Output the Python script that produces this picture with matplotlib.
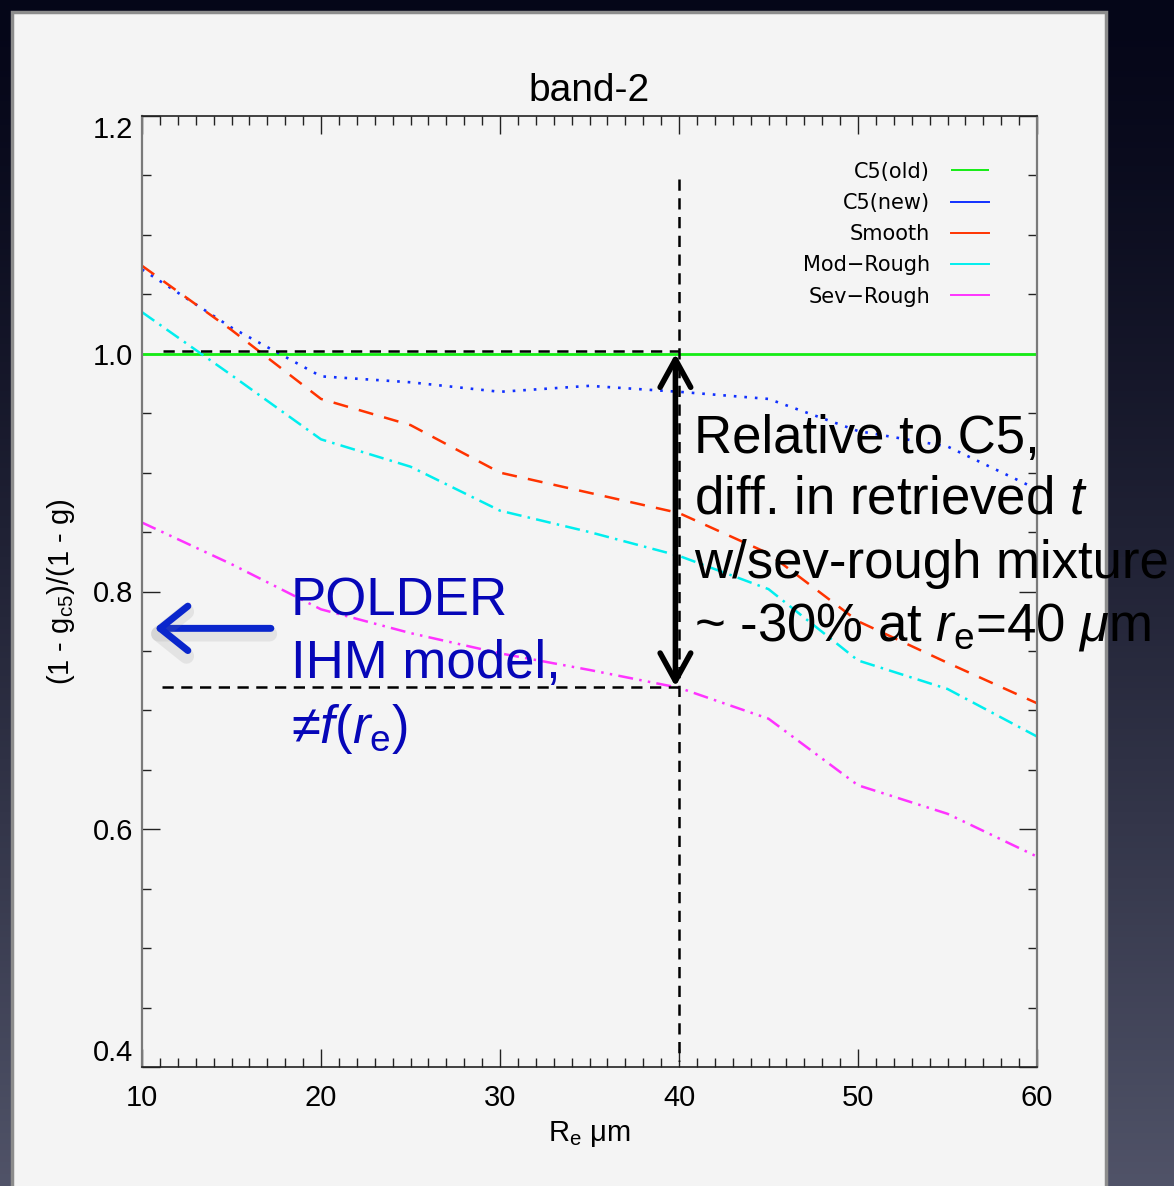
import matplotlib
matplotlib.use("Agg")
import matplotlib.pyplot as plt
import matplotlib.patheffects as pe
import numpy as np
from matplotlib.patches import Rectangle
from matplotlib.ticker import MultipleLocator, FormatStrFormatter

plt.rcParams["font.family"] = ["Liberation Sans", "DejaVu Sans"]
plt.rcParams["mathtext.fontset"] = "custom"
plt.rcParams["mathtext.rm"] = "Liberation Sans"
plt.rcParams["mathtext.it"] = "Liberation Sans:italic"

# effective radius (um)
re_um = [10, 15, 20, 25, 30, 35, 40, 45, 50, 55, 60]

# (1 - g_c5)/(1 - g) per habit model
c5_old = [1.0, 1.0, 1.0, 1.0, 1.0, 1.0, 1.0, 1.0, 1.0, 1.0, 1.0]
c5_new = [1.071, 1.022, 0.981, 0.976, 0.968, 0.973, 0.968, 0.962, 0.935, 0.922, 0.886]
smooth = [1.074, 1.020, 0.962, 0.940, 0.900, 0.883, 0.866, 0.832, 0.775, 0.740, 0.706]
mod_rough = [1.035, 0.982, 0.928, 0.905, 0.868, 0.850, 0.830, 0.802, 0.742, 0.718, 0.678]
sev_rough = [0.858, 0.823, 0.785, 0.765, 0.748, 0.734, 0.719, 0.693, 0.637, 0.613, 0.577]

series_names = ["C5(old)", "C5(new)", "Smooth", "Mod\u2212Rough", "Sev\u2212Rough"]

W, H = 1174, 1186
fig = plt.figure(figsize=(W / 100, H / 100), dpi=100)
fig.patch.set_facecolor("#05061a")

# dark slide background + light panel
bg = fig.add_axes([0, 0, 1, 1], zorder=-10)
top = np.array([5, 6, 24]) / 255
bot = np.array([80, 83, 104]) / 255
t = np.linspace(0, 1, 200)[:, None] ** 1.3
grad = top[None, None, :] * (1 - t[..., None]) + bot[None, None, :] * t[..., None]
grad = np.repeat(grad, 2, axis=1)
bg.imshow(grad, extent=[0, 1, 0, 1], aspect="auto", origin="upper")
bg.add_patch(Rectangle((12 / W, -0.02), (1106 - 12) / W, (H - 12) / H + 0.02,
                       facecolor="#f4f4f4", edgecolor="#8c8c8c", lw=2.5))
bg.set_xlim(0, 1)
bg.set_ylim(0, 1)
bg.axis("off")

ax = fig.add_axes([142 / W, 1 - 1067 / H, (1037 - 142) / W, (1067 - 116) / H])
ax.set_facecolor("none")

l_old, = ax.plot(re_um, c5_old, color="#14ec14", lw=2.0, solid_capstyle="butt")
l_new, = ax.plot(re_um, c5_new, color="#1030ff", lw=1.9, linestyle=(0, (1, 3)))
l_smo, = ax.plot(re_um, smooth, color="#ff3300", lw=1.8, linestyle=(0, (6, 4.5)))
l_mod, = ax.plot(re_um, mod_rough, color="#00eeee", lw=1.8, linestyle=(0, (6, 2.5, 1, 2.5)))
l_sev, = ax.plot(re_um, sev_rough, color="#ff33ff", lw=1.8,
                 linestyle=(0, (6, 2.5, 1, 2.5, 1, 2.5)))

ax.set_xlim(10, 60)
ax.set_ylim(0.4, 1.2)
ax.xaxis.set_major_locator(MultipleLocator(10))
ax.xaxis.set_minor_locator(MultipleLocator(1))
ax.yaxis.set_major_locator(MultipleLocator(0.2))
ax.yaxis.set_minor_locator(MultipleLocator(0.05))
ax.yaxis.set_major_formatter(FormatStrFormatter("%.1f"))
ax.tick_params(which="both", direction="in", top=True, right=True, color="#222222", width=1)
ax.tick_params(which="major", length=13, labelsize=21)
ax.tick_params(which="minor", length=6.5)
ax.tick_params(axis="x", which="major", pad=12)
ax.tick_params(axis="y", which="major", pad=6.5)
for side in ["left", "right"]:
    ax.spines[side].set_color("#7a7a7a")
    ax.spines[side].set_linewidth(1.6)
for side in ["top", "bottom"]:
    ax.spines[side].set_color("#222222")
    ax.spines[side].set_linewidth(1.2)

# end labels sit inside the axis range, like the original
fig.canvas.draw()
for lab in ax.get_yticklabels():
    if lab.get_text() == "0.4":
        lab.set_va("bottom")
    elif lab.get_text() == "1.2":
        lab.set_va("top")

ax.set_title("band-2", fontsize=28, pad=11)
ax.set_xlabel("R$_{\\rm e}$ \u03bcm", fontsize=21, labelpad=5)
ax.set_ylabel("(1 - g$_{\\rm c5}$)/(1 - g)", fontsize=21)
ax.yaxis.set_label_coords(-0.073, 0.5)

# legend: text right-aligned, line sample on the right
leg = ax.legend([l_old, l_new, l_smo, l_mod, l_sev], series_names,
                loc="upper right", bbox_to_anchor=(0.9464, 0.952),
                frameon=False, markerfirst=False, borderpad=0, borderaxespad=0,
                handlelength=1.83, handletextpad=1.0, labelspacing=0.54,
                prop={"family": "DejaVu Sans", "size": 15})
for h in leg.legend_handles:
    h.set_linestyle("-")
    h.set_linewidth(1.4)

# reference markers at r_e = 40
kw = dict(color="k", lw=1.8, linestyle=(0, (4.5, 3)))
ax.plot([11.2, 40], [1.002, 1.002], **kw)
ax.plot([11.1, 40], [0.72, 0.72], **kw)
ax.plot([40, 40], [1.147, 0.405], **kw)

ax.annotate("", xy=(39.8, 1.0), xytext=(39.8, 0.72),
            arrowprops=dict(arrowstyle="<->,head_length=1.0,head_width=0.55",
                            mutation_scale=20, lw=4, color="k",
                            shrinkA=0, shrinkB=0))

ax.annotate("", xy=(10.7, 0.769), xytext=(17.2, 0.769),
            arrowprops=dict(arrowstyle="->,head_length=1.0,head_width=0.8",
                            mutation_scale=20, lw=5, color="#0a26cc",
                            shrinkA=0, shrinkB=0,
                            path_effects=[pe.SimpleLineShadow(offset=(-1, -4), shadow_color="#888888",
                                                              alpha=0.15, linewidth=11),
                                          pe.Normal()]))

big = 38
black_lines = ["Relative to C5,",
               "diff. in retrieved $t$",
               "w/sev-rough mixture",
               "~ -30% at $r_{\\rm e}$=40 $\\mu$m"]
black_y = [0.9168, 0.8655, 0.8110, 0.7588]
for s, y in zip(black_lines, black_y):
    ax.text(40.85, y, s, fontsize=big, color="k", va="baseline", ha="left", clip_on=False)

blue_lines = ["POLDER", "IHM model,", "\u2260$f$($r_{\\rm e}$)"]
blue_y = [0.7798, 0.7269, 0.6723]
for s, y in zip(blue_lines, blue_y):
    ax.text(18.3, y, s, fontsize=big, color="#0606b8", va="baseline", ha="left", clip_on=False)

fig.savefig("out.png", dpi=100, facecolor=fig.get_facecolor())
